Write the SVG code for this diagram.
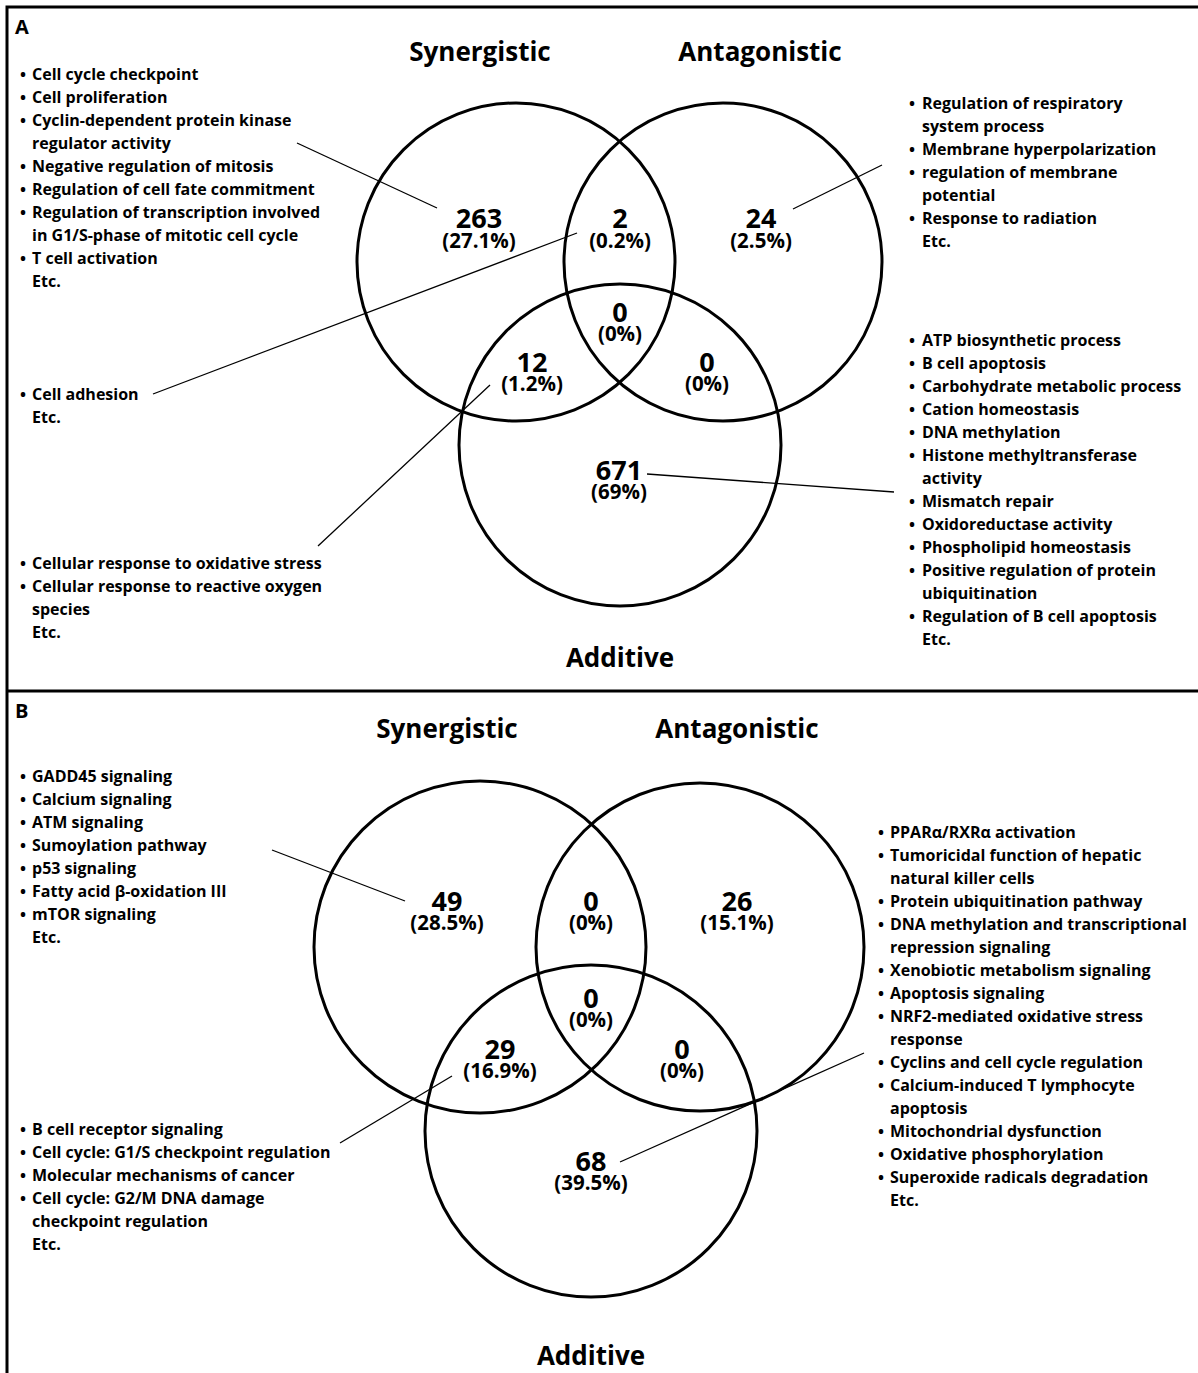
<svg xmlns="http://www.w3.org/2000/svg" width="1198" height="1373" viewBox="0 0 1198 1373">
<style>
text{font-family:"Open Sans","Noto Sans","DejaVu Sans",sans-serif;font-weight:700;fill:#000}
.t{font-size:16px}
.title{font-size:26px;text-anchor:middle}
.num{font-size:27px;text-anchor:middle}
.pct{font-size:20.5px;text-anchor:middle}
.panel{font-size:20px}
.circ{fill:none;stroke:#000;stroke-width:3}
.conn line{stroke:#000;stroke-width:1.3}
.frame{stroke:#000;stroke-width:3;fill:none}
</style>
<rect width="1198" height="1373" fill="#fff"/>
<g id="frame">
<path class="frame" d="M7,1373 V7 H1198 M7,691 H1198"/>
<text class="panel" x="15" y="34">A</text>
<text class="panel" x="15" y="718">B</text>
</g>

<!-- Panel A -->
<g id="A-synergistic"><circle class="circ" cx="516" cy="262" r="159"/><text class="title" x="480" y="61">Synergistic</text></g>
<g id="A-antagonistic"><circle class="circ" cx="723" cy="262" r="159"/><text class="title" x="760" y="61">Antagonistic</text></g>
<g id="A-additive"><circle class="circ" cx="620" cy="445" r="161"/><text class="title" x="620" y="667">Additive</text></g>
<g id="A-counts">
<text class="num" x="479" y="228">263</text><text class="pct" x="479" y="248">(27.1%)</text>
<text class="num" x="620" y="228">2</text><text class="pct" x="620" y="248">(0.2%)</text>
<text class="num" x="761" y="228">24</text><text class="pct" x="761" y="248">(2.5%)</text>
<text class="num" x="620" y="322">0</text><text class="pct" x="620" y="341">(0%)</text>
<text class="num" x="532" y="372">12</text><text class="pct" x="532" y="391">(1.2%)</text>
<text class="num" x="707" y="372">0</text><text class="pct" x="707" y="391">(0%)</text>
<text class="num" x="619" y="480">671</text><text class="pct" x="619" y="499">(69%)</text>
</g>
<g id="A-list-syn" class="t">
<text y="80"><tspan x="20">•</tspan><tspan x="32">Cell cycle checkpoint</tspan></text>
<text y="103"><tspan x="20">•</tspan><tspan x="32">Cell proliferation</tspan></text>
<text y="126"><tspan x="20">•</tspan><tspan x="32">Cyclin-dependent protein kinase</tspan></text>
<text x="32" y="149">regulator activity</text>
<text y="172"><tspan x="20">•</tspan><tspan x="32">Negative regulation of mitosis</tspan></text>
<text y="195"><tspan x="20">•</tspan><tspan x="32">Regulation of cell fate commitment</tspan></text>
<text y="218"><tspan x="20">•</tspan><tspan x="32">Regulation of transcription involved</tspan></text>
<text x="32" y="241">in G1/S-phase of mitotic cell cycle</text>
<text y="264"><tspan x="20">•</tspan><tspan x="32">T cell activation</tspan></text>
<text x="32" y="287">Etc.</text>
</g>
<g id="A-list-ant" class="t">
<text y="109"><tspan x="909">•</tspan><tspan x="922">Regulation of respiratory</tspan></text>
<text x="922" y="132">system process</text>
<text y="155"><tspan x="909">•</tspan><tspan x="922">Membrane hyperpolarization</tspan></text>
<text y="178"><tspan x="909">•</tspan><tspan x="922">regulation of membrane</tspan></text>
<text x="922" y="201">potential</text>
<text y="224"><tspan x="909">•</tspan><tspan x="922">Response to radiation</tspan></text>
<text x="922" y="247">Etc.</text>
</g>
<g id="A-list-synant" class="t">
<text y="400"><tspan x="20">•</tspan><tspan x="32">Cell adhesion</tspan></text>
<text x="32" y="423">Etc.</text>
</g>
<g id="A-list-synadd" class="t">
<text y="569"><tspan x="20">•</tspan><tspan x="32">Cellular response to oxidative stress</tspan></text>
<text y="592"><tspan x="20">•</tspan><tspan x="32">Cellular response to reactive oxygen</tspan></text>
<text x="32" y="615">species</text>
<text x="32" y="638">Etc.</text>
</g>
<g id="A-list-add" class="t">
<text y="346"><tspan x="909">•</tspan><tspan x="922">ATP biosynthetic process</tspan></text>
<text y="369"><tspan x="909">•</tspan><tspan x="922">B cell apoptosis</tspan></text>
<text y="392"><tspan x="909">•</tspan><tspan x="922">Carbohydrate metabolic process</tspan></text>
<text y="415"><tspan x="909">•</tspan><tspan x="922">Cation homeostasis</tspan></text>
<text y="438"><tspan x="909">•</tspan><tspan x="922">DNA methylation</tspan></text>
<text y="461"><tspan x="909">•</tspan><tspan x="922">Histone methyltransferase</tspan></text>
<text x="922" y="484">activity</text>
<text y="507"><tspan x="909">•</tspan><tspan x="922">Mismatch repair</tspan></text>
<text y="530"><tspan x="909">•</tspan><tspan x="922">Oxidoreductase activity</tspan></text>
<text y="553"><tspan x="909">•</tspan><tspan x="922">Phospholipid homeostasis</tspan></text>
<text y="576"><tspan x="909">•</tspan><tspan x="922">Positive regulation of protein</tspan></text>
<text x="922" y="599">ubiquitination</text>
<text y="622"><tspan x="909">•</tspan><tspan x="922">Regulation of B cell apoptosis</tspan></text>
<text x="922" y="645">Etc.</text>
</g>

<!-- Panel B -->
<g id="B-synergistic"><circle class="circ" cx="480" cy="947" r="166"/><text class="title" x="447" y="738">Synergistic</text></g>
<g id="B-antagonistic"><circle class="circ" cx="700" cy="947" r="164"/><text class="title" x="737" y="738">Antagonistic</text></g>
<g id="B-additive"><circle class="circ" cx="591" cy="1131" r="166"/><text class="title" x="591" y="1365">Additive</text></g>
<g id="B-counts">
<text class="num" x="447" y="911">49</text><text class="pct" x="447" y="930">(28.5%)</text>
<text class="num" x="591" y="911">0</text><text class="pct" x="591" y="930">(0%)</text>
<text class="num" x="737" y="911">26</text><text class="pct" x="737" y="930">(15.1%)</text>
<text class="num" x="591" y="1008">0</text><text class="pct" x="591" y="1027">(0%)</text>
<text class="num" x="500" y="1059">29</text><text class="pct" x="500" y="1078">(16.9%)</text>
<text class="num" x="682" y="1059">0</text><text class="pct" x="682" y="1078">(0%)</text>
<text class="num" x="591" y="1171">68</text><text class="pct" x="591" y="1190">(39.5%)</text>
</g>
<g id="B-list-syn" class="t">
<text y="782"><tspan x="20">•</tspan><tspan x="32">GADD45 signaling</tspan></text>
<text y="805"><tspan x="20">•</tspan><tspan x="32">Calcium signaling</tspan></text>
<text y="828"><tspan x="20">•</tspan><tspan x="32">ATM signaling</tspan></text>
<text y="851"><tspan x="20">•</tspan><tspan x="32">Sumoylation pathway</tspan></text>
<text y="874"><tspan x="20">•</tspan><tspan x="32">p53 signaling</tspan></text>
<text y="897"><tspan x="20">•</tspan><tspan x="32">Fatty acid β-oxidation III</tspan></text>
<text y="920"><tspan x="20">•</tspan><tspan x="32">mTOR signaling</tspan></text>
<text x="32" y="943">Etc.</text>
</g>
<g id="B-list-synadd" class="t">
<text y="1135"><tspan x="20">•</tspan><tspan x="32">B cell receptor signaling</tspan></text>
<text y="1158"><tspan x="20">•</tspan><tspan x="32">Cell cycle: G1/S checkpoint regulation</tspan></text>
<text y="1181"><tspan x="20">•</tspan><tspan x="32">Molecular mechanisms of cancer</tspan></text>
<text y="1204"><tspan x="20">•</tspan><tspan x="32">Cell cycle: G2/M DNA damage</tspan></text>
<text x="32" y="1227">checkpoint regulation</text>
<text x="32" y="1250">Etc.</text>
</g>
<g id="B-list-add" class="t">
<text y="838"><tspan x="878">•</tspan><tspan x="890">PPARα/RXRα activation</tspan></text>
<text y="861"><tspan x="878">•</tspan><tspan x="890">Tumoricidal function of hepatic</tspan></text>
<text x="890" y="884">natural killer cells</text>
<text y="907"><tspan x="878">•</tspan><tspan x="890">Protein ubiquitination pathway</tspan></text>
<text y="930"><tspan x="878">•</tspan><tspan x="890">DNA methylation and transcriptional</tspan></text>
<text x="890" y="953">repression signaling</text>
<text y="976"><tspan x="878">•</tspan><tspan x="890">Xenobiotic metabolism signaling</tspan></text>
<text y="999"><tspan x="878">•</tspan><tspan x="890">Apoptosis signaling</tspan></text>
<text y="1022"><tspan x="878">•</tspan><tspan x="890">NRF2-mediated oxidative stress</tspan></text>
<text x="890" y="1045">response</text>
<text y="1068"><tspan x="878">•</tspan><tspan x="890">Cyclins and cell cycle regulation</tspan></text>
<text y="1091"><tspan x="878">•</tspan><tspan x="890">Calcium-induced T lymphocyte</tspan></text>
<text x="890" y="1114">apoptosis</text>
<text y="1137"><tspan x="878">•</tspan><tspan x="890">Mitochondrial dysfunction</tspan></text>
<text y="1160"><tspan x="878">•</tspan><tspan x="890">Oxidative phosphorylation</tspan></text>
<text y="1183"><tspan x="878">•</tspan><tspan x="890">Superoxide radicals degradation</tspan></text>
<text x="890" y="1206">Etc.</text>
</g>

<g id="connectors" class="conn">
<line x1="297" y1="143" x2="437" y2="208"/>
<line x1="577" y1="233" x2="153" y2="394"/>
<line x1="793" y1="209" x2="882" y2="165"/>
<line x1="490" y1="385" x2="318" y2="546"/>
<line x1="647" y1="474" x2="894" y2="492"/>
<line x1="272" y1="850" x2="405" y2="901"/>
<line x1="340" y1="1143" x2="452" y2="1076"/>
<line x1="620" y1="1162" x2="864" y2="1053"/>
</g>
</svg>
